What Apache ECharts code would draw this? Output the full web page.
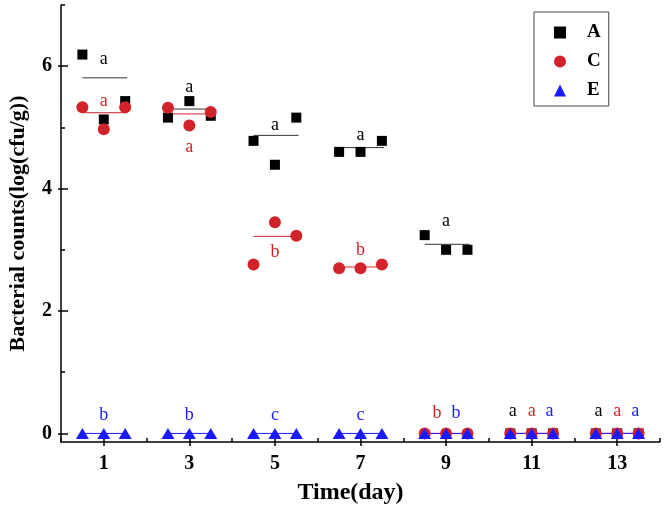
<!DOCTYPE html>
<html>
<head>
<meta charset="utf-8">
<script src="https://cdn.jsdelivr.net/npm/echarts@6/dist/echarts.min.js"></script>
<style>html,body{margin:0;padding:0;background:#fff}#c{width:664px;height:509px}</style>
</head>
<body>
<div id="c"></div>
<script>
// ---- data ----
const days = [1, 3, 5, 7, 9, 11, 13];
const xTickLabels = [1, 3, 5, 7, 9, 11, 13];
const yTickLabels = [0, 2, 4, 6];
// three replicates per day
const valuesA = [[6.19, 5.13, 5.43], [5.16, 5.43, 5.19], [4.78, 4.39, 5.16], [4.60, 4.60, 4.78], [3.24, 3.00, 3.00], [0, 0, 0], [0, 0, 0]];
const valuesC = [[5.33, 4.97, 5.33], [5.32, 5.03, 5.25], [2.76, 3.45, 3.23], [2.70, 2.70, 2.76], [0, 0, 0], [0, 0, 0], [0, 0, 0]];
const valuesE = [[0, 0, 0], [0, 0, 0], [0, 0, 0], [0, 0, 0], [0, 0, 0], [0, 0, 0], [0, 0, 0]];
// horizontal mean bars
const meanA = [5.81, 5.30, 4.87, 4.67, 3.09, 0, 0];
const meanC = [5.24, 5.22, 3.22, 2.72, 0, 0, 0];
const meanE = [0, 0, 0, 0, 0, 0, 0];
// significance letters (letter, value-height)
const lettersA = ['a', 'a', 'a', 'a', 'a', 'a', 'a'];
const letterYA = [6.12, 5.66, 5.04, 4.87, 3.47, 0.36, 0.36];
const lettersC = ['a', 'a', 'b', 'b', 'b', 'a', 'a'];
const letterYC = [5.43, 4.68, 2.96, 2.99, 0.33, 0.36, 0.36];
const lettersE = ['b', 'b', 'c', 'c', 'b', 'a', 'a'];
const letterYE = [0.29, 0.29, 0.29, 0.29, 0.33, 0.36, 0.36];
const letterShiftA = [0, 0, 0, 0, 0, -0.44, -0.44];
const letterShiftC = [0, 0, 0, 0, -0.21, 0, 0];
const letterShiftE = [0, 0, 0, 0, 0.23, 0.42, 0.42];

// ---- styling ----
const BLACK = '#000000', RED = '#d3232a', BLUE = '#1a1aff';
const FONT = 'Liberation Serif, Times New Roman, serif';
const spread = [-0.5, 0, 0.5];

function pts(vals) {
  const out = [];
  days.forEach((d, i) => vals[i].forEach((v, j) => out.push([d + spread[j], v])));
  return out;
}
function meanSeries(name, means, color) {
  return {
    type: 'custom', name: name + '_mean', z: 1, silent: true,
    data: days.map((d, i) => [d, means[i]]),
    renderItem: function (params, api) {
      const d = api.value(0), m = api.value(1);
      const p1 = api.coord([d - 0.5, m]);
      const p2 = api.coord([d + 0.55, m]);
      return { type: 'line', shape: { x1: p1[0], y1: p1[1], x2: p2[0], y2: p2[1] }, style: { stroke: color, lineWidth: 1 } };
    }
  };
}
function letterSeries(name, letters, ys, shifts, color) {
  return {
    type: 'custom', name: name + '_letters', z: 10, silent: true,
    data: days.map((d, i) => [d + shifts[i], ys[i], i]),
    renderItem: function (params, api) {
      const p = api.coord([api.value(0), api.value(1)]);
      return { type: 'text', style: { text: letters[api.value(2)], x: p[0], y: p[1], fill: color, font: '18px ' + FONT, align: 'center', verticalAlign: 'middle' } };
    }
  };
}
const tickLabelStyle = { color: '#000', fontFamily: FONT, fontWeight: 'bold', fontSize: 20 };
const chart = echarts.init(document.getElementById('c'), null, { renderer: 'canvas' });
const xMinor = [0, 2, 4, 6, 8, 10, 12, 14];
const yMinor = [1, 3, 5, 7];
chart.setOption({
  animation: false,
  backgroundColor: '#fff',
  grid: { left: 61, right: 4, top: 5, bottom: 67, containLabel: false, outerBoundsMode: 'none' },
  legend: {
    orient: 'vertical', left: 534, top: 12,
    padding: [11, 8, 6, 20], itemGap: 10, itemWidth: 12, itemHeight: 12,
    borderColor: '#444', borderWidth: 1,
    data: [
      { name: 'A', icon: 'rect', itemStyle: { color: BLACK, opacity: 1 } },
      { name: 'C', icon: 'circle', itemStyle: { color: RED, opacity: 1 } },
      { name: 'E', icon: 'triangle', itemStyle: { color: BLUE, opacity: 1 } }
    ],
    textStyle: { color: '#000', fontFamily: FONT, fontWeight: 'bold', fontSize: 19, padding: [0, 0, 0, 16] }
  },
  xAxis: [
    {
      type: 'value', min: 0, max: 14,
      name: 'Time(day)', nameLocation: 'middle', nameGap: 39,
      nameTextStyle: { color: '#000', fontFamily: FONT, fontWeight: 'bold', fontSize: 24, padding: [0, 20, 0, 0] },
      axisLine: { show: true, onZero: false, lineStyle: { color: '#000', width: 1.5 } },
      axisTick: { show: true, inside: true, length: 6, customValues: xTickLabels, lineStyle: { color: '#000', width: 1.5 } },
      axisLabel: { show: true, customValues: xTickLabels, margin: 12, ...tickLabelStyle },
      splitLine: { show: false }
    },
    {
      type: 'value', min: 0, max: 14, position: 'bottom',
      axisLine: { show: false, onZero: false },
      axisTick: { show: true, inside: true, length: 4, customValues: xMinor, lineStyle: { color: '#000', width: 1.5 } },
      axisLabel: { show: false }, splitLine: { show: false }
    },
    {
      type: 'value', min: 0, max: 14, position: 'bottom',
      axisLine: { show: false, onZero: false },
      axisTick: { show: true, inside: false, length: 4, customValues: xTickLabels, lineStyle: { color: '#000', width: 1.5 } },
      axisLabel: { show: false }, splitLine: { show: false }
    }
  ],
  yAxis: [
    {
      type: 'value', min: -0.14, max: 7,
      name: 'Bacterial counts(log(cfu/g))', nameLocation: 'middle', nameGap: 32,
      nameTextStyle: { color: '#000', fontFamily: FONT, fontWeight: 'bold', fontSize: 22 },
      axisLine: { show: true, onZero: false, lineStyle: { color: '#000', width: 1.5 } },
      axisTick: { show: true, inside: true, length: 7, customValues: yTickLabels, lineStyle: { color: '#000', width: 1.5 } },
      axisLabel: { show: true, customValues: yTickLabels, margin: 9, ...tickLabelStyle },
      splitLine: { show: false }
    },
    {
      type: 'value', min: -0.14, max: 7, position: 'left',
      axisLine: { show: false, onZero: false },
      axisTick: { show: true, inside: true, length: 4, customValues: yMinor, lineStyle: { color: '#000', width: 1.5 } },
      axisLabel: { show: false }, splitLine: { show: false }
    },
    {
      type: 'value', min: -0.14, max: 7, position: 'left',
      axisLine: { show: false, onZero: false },
      axisTick: { show: true, inside: false, length: 3, customValues: yTickLabels, lineStyle: { color: '#000', width: 1.5 } },
      axisLabel: { show: false }, splitLine: { show: false }
    }
  ],
  series: [
    meanSeries('A', meanA, '#333'),
    meanSeries('C', meanC, RED),
    meanSeries('E', meanE, BLUE),
    { name: 'A', type: 'scatter', z: 3, symbol: 'rect', symbolSize: 10, itemStyle: { color: BLACK, opacity: 1 }, data: pts(valuesA) },
    { name: 'C', type: 'scatter', z: 4, symbol: 'circle', symbolSize: 12, itemStyle: { color: RED, opacity: 1 }, data: pts(valuesC) },
    { name: 'E', type: 'scatter', z: 5, symbol: 'triangle', symbolSize: [13, 11], itemStyle: { color: BLUE, opacity: 1 }, data: pts(valuesE) },
    letterSeries('A', lettersA, letterYA, letterShiftA, BLACK),
    letterSeries('C', lettersC, letterYC, letterShiftC, RED),
    letterSeries('E', lettersE, letterYE, letterShiftE, BLUE)
  ]
});
</script>
</body>
</html>
